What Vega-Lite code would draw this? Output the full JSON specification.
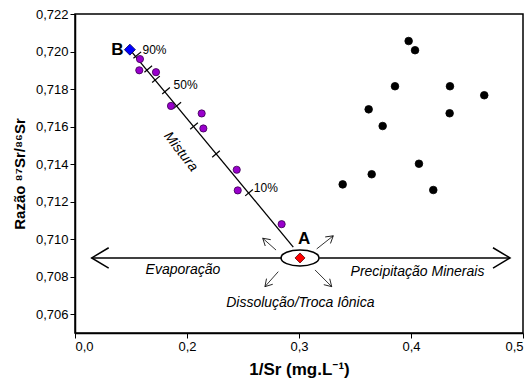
{
  "$schema": "https://vega.github.io/schema/vega-lite/v6.json",
  "width": 448,
  "height": 319,
  "autosize": {"type": "none"},
  "padding": {"left": 75, "top": 14, "right": 9, "bottom": 52},
  "config": {
    "font": "Liberation Sans",
    "view": {"stroke": "black", "strokeWidth": 1.5},
    "axis": {
      "grid": false,
      "domainColor": "black",
      "domainWidth": 1.5,
      "tickColor": "black",
      "tickSize": 5,
      "labelColor": "black",
      "labelFontSize": 13,
      "labelFont": "Liberation Sans",
      "labelOverlap": false,
      "titleColor": "black",
      "titleFont": "Liberation Sans, Noto Sans",
      "titleFontWeight": "bold",
      "titleFontSize": 17
    }
  },
  "resolve": {"scale": {"size": "independent", "strokeWidth": "independent", "angle": "independent"}},
  "encoding": {
    "x": {
      "field": "x", "type": "quantitative",
      "scale": {"domain": [0.1, 0.5], "nice": false, "zero": false},
      "axis": {
        "title": "1/Sr (mg.L⁻¹)",
        "values": [0.1, 0.2, 0.3, 0.4, 0.5],
        "labelOverlap": false,
        "labelExpr": "datum.value < 0.15 ? '0,0' : replace(format(datum.value, '.1f'), '.', ',')",
        "titlePadding": 8
      }
    },
    "y": {
      "field": "y", "type": "quantitative",
      "scale": {"domain": [0.705, 0.722], "nice": false, "zero": false},
      "axis": {
        "title": "Razão ⁸⁷Sr/⁸⁶Sr",
        "titleFontSize": 15,
        "values": [0.706, 0.708, 0.71, 0.712, 0.714, 0.716, 0.718, 0.72, 0.722],
        "labelOverlap": false,
        "labelExpr": "replace(format(datum.value, '.3f'), '.', ',')",
        "titlePadding": 8
      }
    }
  },
  "datasets": {
    "amostras": [
      {"x": 0.149, "y": 0.7201, "grupo": "B"},
      {"x": 0.3009, "y": 0.709, "grupo": "A"},
      {"x": 0.158, "y": 0.7196, "grupo": "mistura"},
      {"x": 0.1574, "y": 0.719, "grupo": "mistura"},
      {"x": 0.1723, "y": 0.7189, "grupo": "mistura"},
      {"x": 0.1857, "y": 0.7171, "grupo": "mistura"},
      {"x": 0.2131, "y": 0.7167, "grupo": "mistura"},
      {"x": 0.2146, "y": 0.7159, "grupo": "mistura"},
      {"x": 0.2444, "y": 0.7137, "grupo": "mistura"},
      {"x": 0.2453, "y": 0.7126, "grupo": "mistura"},
      {"x": 0.2845, "y": 0.7108, "grupo": "mistura"},
      {"x": 0.3979, "y": 0.72056, "grupo": "outros"},
      {"x": 0.4036, "y": 0.72007, "grupo": "outros"},
      {"x": 0.3857, "y": 0.71815, "grupo": "outros"},
      {"x": 0.4348, "y": 0.71815, "grupo": "outros"},
      {"x": 0.4654, "y": 0.71767, "grupo": "outros"},
      {"x": 0.3622, "y": 0.71692, "grupo": "outros"},
      {"x": 0.4345, "y": 0.71671, "grupo": "outros"},
      {"x": 0.3747, "y": 0.71603, "grupo": "outros"},
      {"x": 0.4071, "y": 0.71402, "grupo": "outros"},
      {"x": 0.3649, "y": 0.71346, "grupo": "outros"},
      {"x": 0.339, "y": 0.71292, "grupo": "outros"},
      {"x": 0.4199, "y": 0.71262, "grupo": "outros"}
    ],
    "linha": [
      {"x": 0.149, "y": 0.7201, "xf": 0.2949, "yf": 0.70958}
    ],
    "marcas": [
      {"x": 0.1556, "y": 0.71981, "fracao": "90%"},
      {"x": 0.1654, "y": 0.71907, "fracao": "80%"},
      {"x": 0.1723, "y": 0.71852, "fracao": "70%"},
      {"x": 0.1813, "y": 0.71791, "fracao": "50%"},
      {"x": 0.1913, "y": 0.71713, "fracao": "40%"},
      {"x": 0.2063, "y": 0.71603, "fracao": "30%"},
      {"x": 0.2259, "y": 0.71454, "fracao": "20%"},
      {"x": 0.2554, "y": 0.71248, "fracao": "10%"}
    ],
    "setas": [
      {"x": 0.1149, "y": 0.709, "xs": 0.2845, "ys": 0.709, "dir": "W", "tam": "grande"},
      {"x": 0.4884, "y": 0.709, "xs": 0.3181, "ys": 0.709, "dir": "E", "tam": "grande"},
      {"x": 0.2676, "y": 0.71005, "xs": 0.2795, "ys": 0.70942, "dir": "NW", "tam": "pequena"},
      {"x": 0.3306, "y": 0.71018, "xs": 0.3158, "ys": 0.70948, "dir": "NE", "tam": "pequena"},
      {"x": 0.2696, "y": 0.70747, "xs": 0.2815, "ys": 0.70827, "dir": "SW", "tam": "pequena"},
      {"x": 0.3292, "y": 0.70747, "xs": 0.3143, "ys": 0.70836, "dir": "SE", "tam": "pequena"}
    ],
    "rotulos": [
      {"x": 0.1378, "y": 0.7201, "texto": "B", "tipo": "ponto"},
      {"x": 0.3047, "y": 0.71, "texto": "A", "tipo": "ponto"},
      {"x": 0.171, "y": 0.7201, "texto": "90%", "tipo": "pct"},
      {"x": 0.1987, "y": 0.7182, "texto": "50%", "tipo": "pct"},
      {"x": 0.2704, "y": 0.71274, "texto": "10%", "tipo": "pct"},
      {"x": 0.1944, "y": 0.71466, "texto": "Mistura", "tipo": "mistura"},
      {"x": 0.1964, "y": 0.70836, "texto": "Evaporação", "tipo": "processo"},
      {"x": 0.4058, "y": 0.70827, "texto": "Precipitação Minerais", "tipo": "processo"},
      {"x": 0.3012, "y": 0.70661, "texto": "Dissolução/Troca Iônica", "tipo": "processo"}
    ]
  },
  "layer": [
    {
      "data": {"name": "linha"},
      "mark": {"type": "rule", "color": "black", "strokeWidth": 1.3},
      "encoding": {
        "x2": {"field": "xf"},
        "y2": {"field": "yf"}
      }
    },
    {
      "data": {"name": "marcas"},
      "mark": {"type": "point", "shape": "stroke", "angle": 320, "stroke": "black", "strokeWidth": 1.2, "size": 100, "opacity": 1},
      "encoding": {}
    },
    {
      "data": {"name": "setas"},
      "mark": {"type": "rule", "color": "black"},
      "encoding": {
        "x2": {"field": "xs"},
        "y2": {"field": "ys"},
        "strokeWidth": {"field": "tam", "type": "nominal", "scale": {"type": "ordinal", "domain": ["grande", "pequena"], "range": [1.5, 0.8]}, "legend": null}
      }
    },
    {
      "data": {"name": "setas"},
      "mark": {"type": "point", "shape": "M-1,-0.6L0,0L-1,0.6", "filled": false, "stroke": "black", "opacity": 1},
      "encoding": {
        "angle": {"field": "dir", "type": "nominal", "scale": {"type": "ordinal", "domain": ["E", "W", "NE", "NW", "SE", "SW"], "range": [0, 180, 321, 221, 45, 132]}, "legend": null},
        "size": {"field": "tam", "type": "nominal", "scale": {"type": "ordinal", "domain": ["grande", "pequena"], "range": [1156, 196]}, "legend": null},
        "strokeWidth": {"field": "tam", "type": "nominal", "scale": {"type": "ordinal", "domain": ["grande", "pequena"], "range": [1.5, 0.8]}, "legend": null}
      }
    },
    {
      "data": {"name": "amostras"},
      "transform": [{"filter": "datum.grupo == 'A'"}],
      "mark": {"type": "point", "shape": "M-1,0C-1,-0.232 -0.552,-0.42 0,-0.42C0.552,-0.42 1,-0.232 1,0C1,0.232 0.552,0.42 0,0.42C-0.552,0.42 -1,0.232 -1,0Z", "filled": false, "stroke": "black", "strokeWidth": 1.5, "size": 1444, "opacity": 1},
      "encoding": {}
    },
    {
      "data": {"name": "amostras"},
      "mark": {"type": "point", "filled": true, "opacity": 1, "strokeWidth": 0.8},
      "encoding": {
        "fill": {"field": "grupo", "type": "nominal", "scale": {"domain": ["A", "B", "mistura", "outros"], "range": ["#ff0000", "#0000ff", "#9900cc", "#000000"]}, "legend": null},
        "stroke": {"field": "grupo", "type": "nominal", "scale": {"domain": ["A", "B", "mistura", "outros"], "range": ["#550000", "#000055", "#3a0050", "#000000"]}, "legend": null},
        "shape": {"field": "grupo", "type": "nominal", "scale": {"domain": ["A", "B", "mistura", "outros"], "range": ["diamond", "diamond", "circle", "circle"]}, "legend": null},
        "size": {"field": "grupo", "type": "nominal", "scale": {"type": "ordinal", "domain": ["A", "B", "mistura", "outros"], "range": [100, 121, 52, 58]}, "legend": null}
      }
    },
    {
      "data": {"name": "rotulos"},
      "transform": [{"filter": "datum.tipo == 'ponto'"}],
      "mark": {"type": "text", "fontSize": 17, "fontWeight": "bold", "color": "black", "align": "center", "baseline": "middle"},
      "encoding": {"text": {"field": "texto"}}
    },
    {
      "data": {"name": "rotulos"},
      "transform": [{"filter": "datum.tipo == 'pct'"}],
      "mark": {"type": "text", "fontSize": 12, "color": "black", "align": "center", "baseline": "middle"},
      "encoding": {"text": {"field": "texto"}}
    },
    {
      "data": {"name": "rotulos"},
      "transform": [{"filter": "datum.tipo == 'mistura'"}],
      "mark": {"type": "text", "fontSize": 14, "fontStyle": "italic", "angle": 52, "color": "black", "align": "center", "baseline": "middle"},
      "encoding": {"text": {"field": "texto"}}
    },
    {
      "data": {"name": "rotulos"},
      "transform": [{"filter": "datum.tipo == 'processo'"}],
      "mark": {"type": "text", "fontSize": 14, "fontStyle": "italic", "color": "black", "align": "center", "baseline": "middle"},
      "encoding": {"text": {"field": "texto"}}
    }
  ]
}
